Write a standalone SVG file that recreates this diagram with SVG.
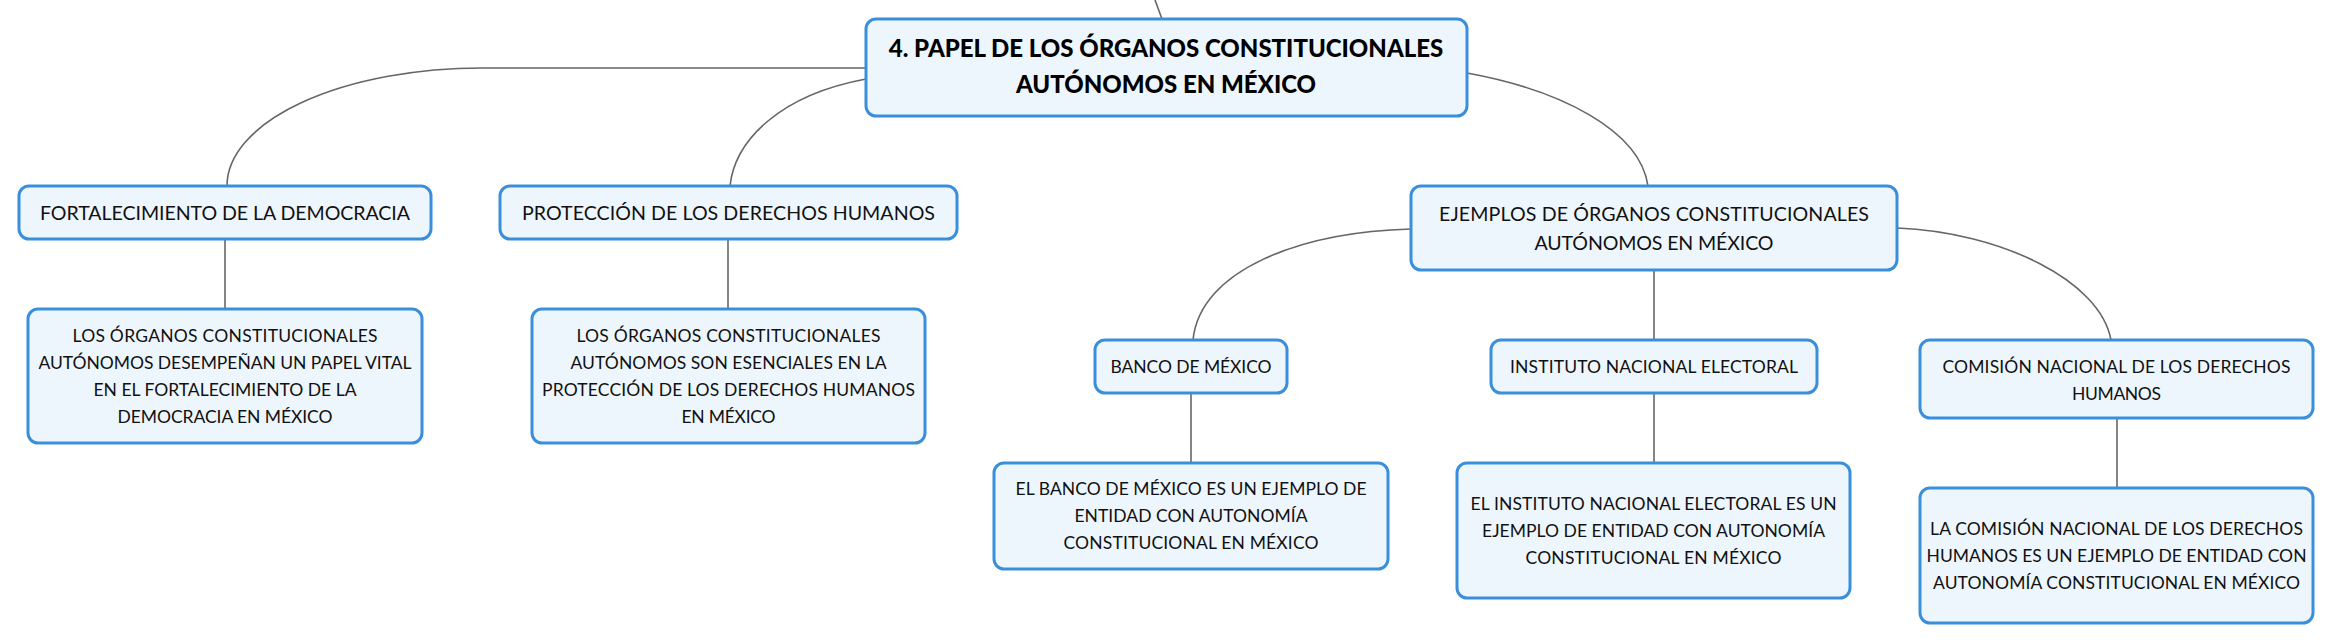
<svg xmlns="http://www.w3.org/2000/svg" width="2334" height="643" viewBox="0 0 2334 643">
<style>
.box{fill:#eef6fd;stroke:#3a8fdb;stroke-width:3}
.t{font-family:Lato,"Open Sans","Liberation Sans",sans-serif;font-size:19.6px;fill:#111;text-anchor:middle}
.s{font-family:Lato,"Open Sans","Liberation Sans",sans-serif;font-size:17.5px;fill:#111;text-anchor:middle}
.tb{font-family:Lato,"Open Sans","Liberation Sans",sans-serif;font-size:24px;font-weight:900;fill:#000;text-anchor:middle}
.c{fill:none;stroke:#666;stroke-width:1.6}
</style>
<rect width="2334" height="643" fill="#fff"/>
<g id="connectors">
<path class="c" d="M1155,0 L1162,19"/>
<path class="c" d="M866,68 H482 A255 118 0 0 0 227 186"/>
<path class="c" d="M866,79 C780,95 735,140 730,186"/>
<path class="c" d="M1467,73 C1560,90 1640,130 1648,186"/>
<path class="c" d="M1411,229 C1300,232 1200,270 1193,340"/>
<path class="c" d="M1897,228 C2000,232 2100,280 2111,340"/>
<path class="c" d="M225,239 V309"/>
<path class="c" d="M728,239 V309"/>
<path class="c" d="M1654,270 V340"/>
<path class="c" d="M1191,393 V463"/>
<path class="c" d="M1654,393 V463"/>
<path class="c" d="M2117,418 V488"/>
</g>
<g id="root">
<rect class="box" x="866" y="19" width="601" height="97" rx="10"/>
<text class="tb" x="1166" y="57">4. PAPEL DE LOS ÓRGANOS CONSTITUCIONALES</text>
<text class="tb" x="1166" y="93">AUTÓNOMOS EN MÉXICO</text>
</g>
<g id="fortalecimiento">
<rect class="box" x="19" y="186" width="412" height="53" rx="10"/>
<text class="t" x="225" y="220" textLength="370">FORTALECIMIENTO DE LA DEMOCRACIA</text>
</g>
<g id="fortalecimiento-desc">
<rect class="box" x="28" y="309" width="394" height="134" rx="10"/>
<text class="s" x="225" y="342" textLength="305">LOS ÓRGANOS CONSTITUCIONALES</text>
<text class="s" x="225" y="369" textLength="373">AUTÓNOMOS DESEMPEÑAN UN PAPEL VITAL</text>
<text class="s" x="225" y="396" textLength="263">EN EL FORTALECIMIENTO DE LA</text>
<text class="s" x="225" y="423" textLength="215">DEMOCRACIA EN MÉXICO</text>
</g>
<g id="proteccion">
<rect class="box" x="500" y="186" width="457" height="53" rx="10"/>
<text class="t" x="728.5" y="220" textLength="413">PROTECCIÓN DE LOS DERECHOS HUMANOS</text>
</g>
<g id="proteccion-desc">
<rect class="box" x="532" y="309" width="393" height="134" rx="10"/>
<text class="s" x="728.5" y="342" textLength="304">LOS ÓRGANOS CONSTITUCIONALES</text>
<text class="s" x="728.5" y="369" textLength="316">AUTÓNOMOS SON ESENCIALES EN LA</text>
<text class="s" x="728.5" y="396" textLength="373">PROTECCIÓN DE LOS DERECHOS HUMANOS</text>
<text class="s" x="728.5" y="423" textLength="94">EN MÉXICO</text>
</g>
<g id="ejemplos">
<rect class="box" x="1411" y="186" width="486" height="84" rx="10"/>
<text class="t" x="1654" y="221" textLength="430">EJEMPLOS DE ÓRGANOS CONSTITUCIONALES</text>
<text class="t" x="1654" y="250" textLength="239">AUTÓNOMOS EN MÉXICO</text>
</g>
<g id="banco">
<rect class="box" x="1095" y="340" width="192" height="53" rx="10"/>
<text class="s" x="1191" y="373" textLength="161">BANCO DE MÉXICO</text>
</g>
<g id="banco-desc">
<rect class="box" x="994" y="463" width="394" height="106" rx="10"/>
<text class="s" x="1191" y="495" textLength="351">EL BANCO DE MÉXICO ES UN EJEMPLO DE</text>
<text class="s" x="1191" y="522" textLength="233">ENTIDAD CON AUTONOMÍA</text>
<text class="s" x="1191" y="549" textLength="255">CONSTITUCIONAL EN MÉXICO</text>
</g>
<g id="ine">
<rect class="box" x="1491" y="340" width="326" height="53" rx="10"/>
<text class="s" x="1654" y="373" textLength="288">INSTITUTO NACIONAL ELECTORAL</text>
</g>
<g id="ine-desc">
<rect class="box" x="1457" y="463" width="393" height="135" rx="10"/>
<text class="s" x="1653.5" y="509.5" textLength="366">EL INSTITUTO NACIONAL ELECTORAL ES UN</text>
<text class="s" x="1653.5" y="536.5" textLength="343">EJEMPLO DE ENTIDAD CON AUTONOMÍA</text>
<text class="s" x="1653.5" y="563.5" textLength="256">CONSTITUCIONAL EN MÉXICO</text>
</g>
<g id="cndh">
<rect class="box" x="1920" y="340" width="393" height="78" rx="10"/>
<text class="s" x="2116.5" y="373" textLength="348">COMISIÓN NACIONAL DE LOS DERECHOS</text>
<text class="s" x="2116.5" y="400" textLength="89">HUMANOS</text>
</g>
<g id="cndh-desc">
<rect class="box" x="1920" y="488" width="393" height="135" rx="10"/>
<text class="s" x="2116.5" y="535" textLength="373">LA COMISIÓN NACIONAL DE LOS DERECHOS</text>
<text class="s" x="2116.5" y="562" textLength="380">HUMANOS ES UN EJEMPLO DE ENTIDAD CON</text>
<text class="s" x="2116.5" y="589" textLength="367">AUTONOMÍA CONSTITUCIONAL EN MÉXICO</text>
</g>
</svg>
